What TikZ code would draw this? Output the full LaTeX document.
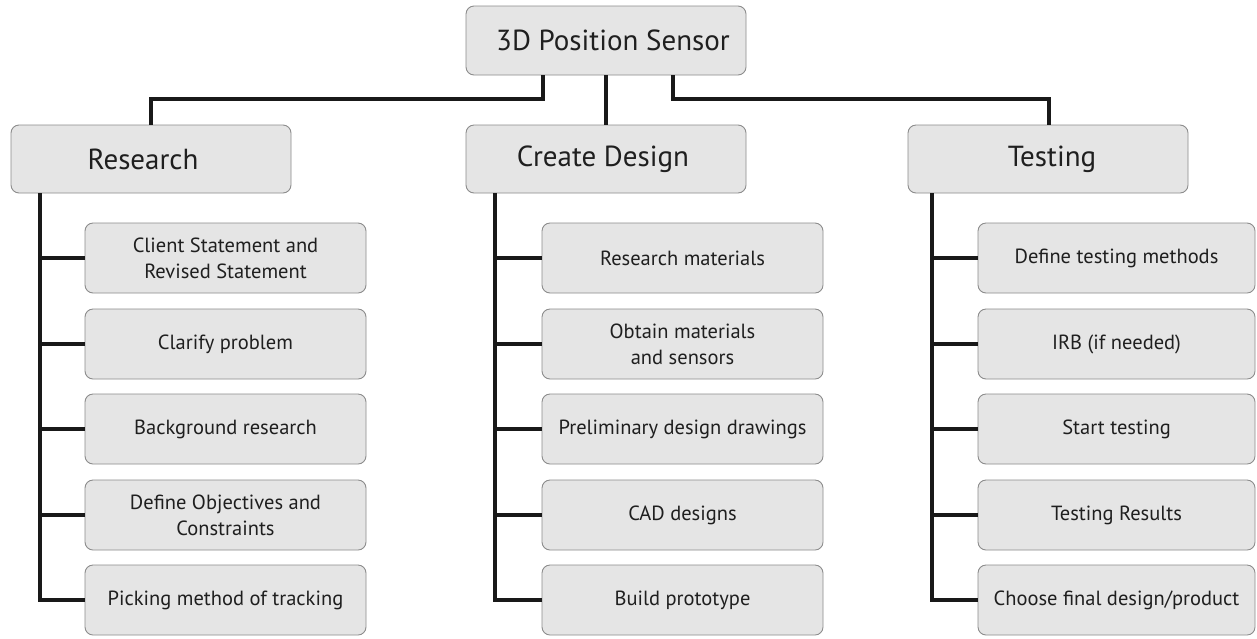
\documentclass[tikz,border=0pt]{standalone}
\usepackage{fontspec}
\setmainfont{PT Sans}
\begin{document}
\begin{tikzpicture}[x=1pt,y=-1pt,
  box/.style={draw=black!45, line width=0.9pt, fill=black!10, rounded corners=8pt, align=center, inner sep=0pt, text=black!88},
  head/.style={box, minimum width=280pt, minimum height=68pt, font=\fontsize{29}{33}\selectfont},
  sub/.style={box, minimum width=281pt, minimum height=70pt, font=\fontsize{20.5}{26}\selectfont},
  link/.style={line width=4pt, black!90}]
\useasboundingbox[fill=white] (0,0) rectangle (1257,638);

\node[head, minimum height=69pt] (top) at (606,40.5) {\hspace*{14pt}3D Position Sensor};
\node[head] (res) at (151,159) {Research\hspace*{16pt}};
\node[head] (cre) at (606,159) {Create Design\hspace*{6pt}};
\node[head] (tes) at (1048,159) {\hspace*{8pt}Testing};

\node[sub] (r1) at (225.5,258) {Client Statement and\\Revised Statement};
\node[sub] (r2) at (225.5,344) {Clarify problem};
\node[sub] (r3) at (225.5,429) {Background research};
\node[sub] (r4) at (225.5,515) {Define Objectives and\\Constraints};
\node[sub] (r5) at (225.5,600) {Picking method of tracking};

\node[sub] (c1) at (682.5,258) {Research materials};
\node[sub] (c2) at (682.5,344) {Obtain materials\\and sensors};
\node[sub] (c3) at (682.5,429) {Preliminary design drawings};
\node[sub] (c4) at (682.5,515) {CAD designs};
\node[sub] (c5) at (682.5,600) {Build prototype};

\node[sub, minimum width=277pt] (t1) at (1116.5,258) {Define testing methods};
\node[sub, minimum width=277pt] (t2) at (1116.5,344) {IRB (if needed)};
\node[sub, minimum width=277pt] (t3) at (1116.5,429) {Start testing};
\node[sub, minimum width=277pt] (t4) at (1116.5,515) {Testing Results};
\node[sub, minimum width=277pt] (t5) at (1116.5,600) {Choose final design/product};

% top-level connectors
\draw[link] ([xshift=-63pt]top.south) -- ++(0,24) -| (res.north);
\draw[link] (top.south) -- (cre.north);
\draw[link] ([xshift=67pt]top.south) -- ++(0,24) -| ([xshift=1pt]tes.north);

% trunks
\coordinate (rt) at ([xshift=29pt]res.south west);
\coordinate (ct) at ([xshift=29pt]cre.south west);
\coordinate (tt) at ([xshift=24pt]tes.south west);
\draw[link] (rt) |- (r5.west);
\draw[link] (ct) |- (c5.west);
\draw[link] (tt) |- (t5.west);
\foreach \n in {r1,r2,r3,r4} \draw[link] (\n.west) -- (\n.west -| rt);
\foreach \n in {c1,c2,c3,c4} \draw[link] (\n.west) -- (\n.west -| ct);
\foreach \n in {t1,t2,t3,t4} \draw[link] (\n.west) -- (\n.west -| tt);
\end{tikzpicture}
\end{document}
